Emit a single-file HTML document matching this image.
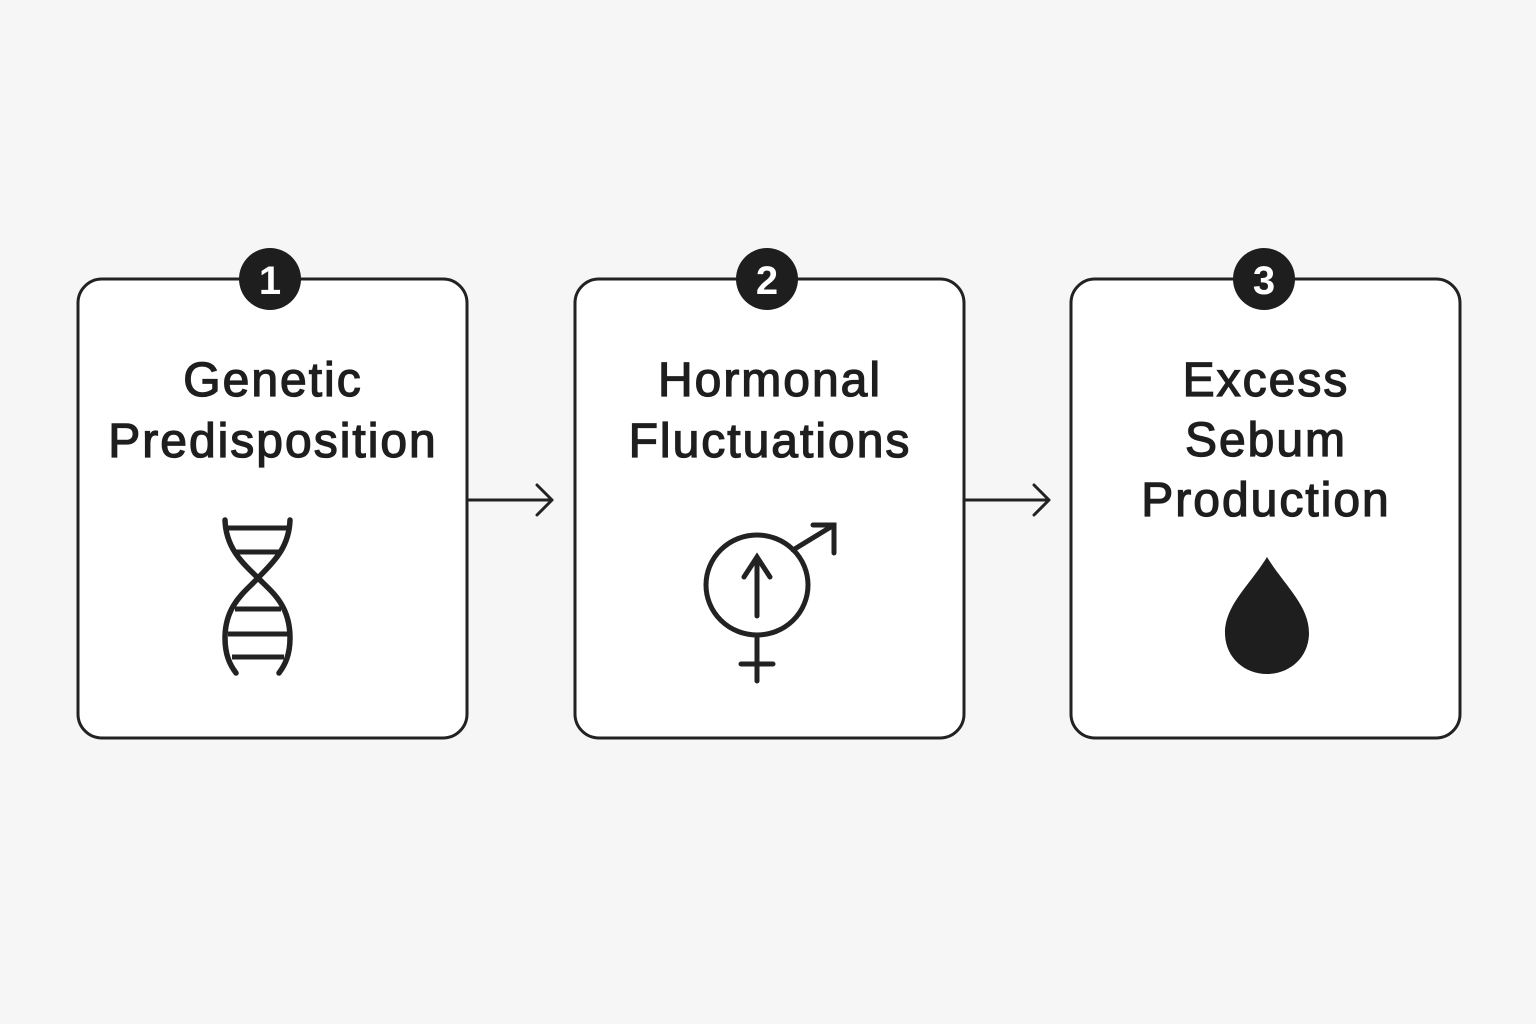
<!DOCTYPE html>
<html><head><style>
body{margin:0;background:#f6f6f6;}
svg{display:block}
text{font-family:"Liberation Sans",sans-serif;fill:#1e1e1e;}
</style></head><body>
<svg width="1536" height="1024" viewBox="0 0 1536 1024">
<rect width="1536" height="1024" fill="#f6f6f6"/>
<g fill="#fff" stroke="#222" stroke-width="3">
<rect x="78" y="279" width="389" height="459" rx="24"/>
<rect x="575" y="279" width="389" height="459" rx="24"/>
<rect x="1071" y="279" width="389" height="459" rx="24"/>
</g>
<g fill="#1e1e1e">
<circle cx="270" cy="279" r="31"/><circle cx="767" cy="279" r="31"/><circle cx="1264" cy="279" r="31"/>
</g>
<g font-size="40" font-weight="bold" text-anchor="middle">
<text x="270" y="294" style="fill:#fff">1</text><text x="767" y="294" style="fill:#fff">2</text><text x="1264" y="294" style="fill:#fff">3</text>
</g>
<g font-size="48" text-anchor="middle" stroke="#1e1e1e" stroke-width="1.3" letter-spacing="2">
<text x="273" y="396">Genetic</text><text x="273" y="457">Predisposition</text>
<text x="770" y="396">Hormonal</text><text x="770" y="457">Fluctuations</text>
<text x="1266" y="396">Excess</text><text x="1266" y="456">Sebum</text><text x="1266" y="516">Production</text>
</g>
<g fill="none" stroke="#222" stroke-width="3" stroke-linecap="round" stroke-linejoin="round">
<path d="M469 500H552M537 485L552 500L537 515"/>
<path d="M966 500H1049M1034 485L1049 500L1034 515"/>
</g>
<g fill="none" stroke="#222" stroke-width="5.5" stroke-linecap="round">
<path d="M225 520C226 550 245 565 258 578C272 592 290 605 290 638C290 655 285 665 279 673"/>
<path d="M290 520C289 550 270 565 258 578C245 592 225 605 225 638C225 655 230 665 236 673"/>
<g stroke-width="5" stroke-linecap="butt">
<path d="M228 528H288M235 552H281M235 609H281M228 634H288M232 657H284"/>
</g>
</g>
<g fill="none" stroke="#222" stroke-width="5" stroke-linecap="round">
<ellipse cx="757" cy="585" rx="51" ry="50"/>
<path d="M757 560V616M744 577L757 557L770 577"/>
<path d="M793 550L834 525M813 525H834V553"/>
<path d="M757 636V681M741 664H773"/>
</g>
<path d="M1267 557C1250 585 1225 605 1225 633C1225 657 1244 674 1267 674C1290 674 1309 657 1309 633C1309 605 1284 585 1267 557Z" fill="#1e1e1e"/>
</svg>
</body></html>
